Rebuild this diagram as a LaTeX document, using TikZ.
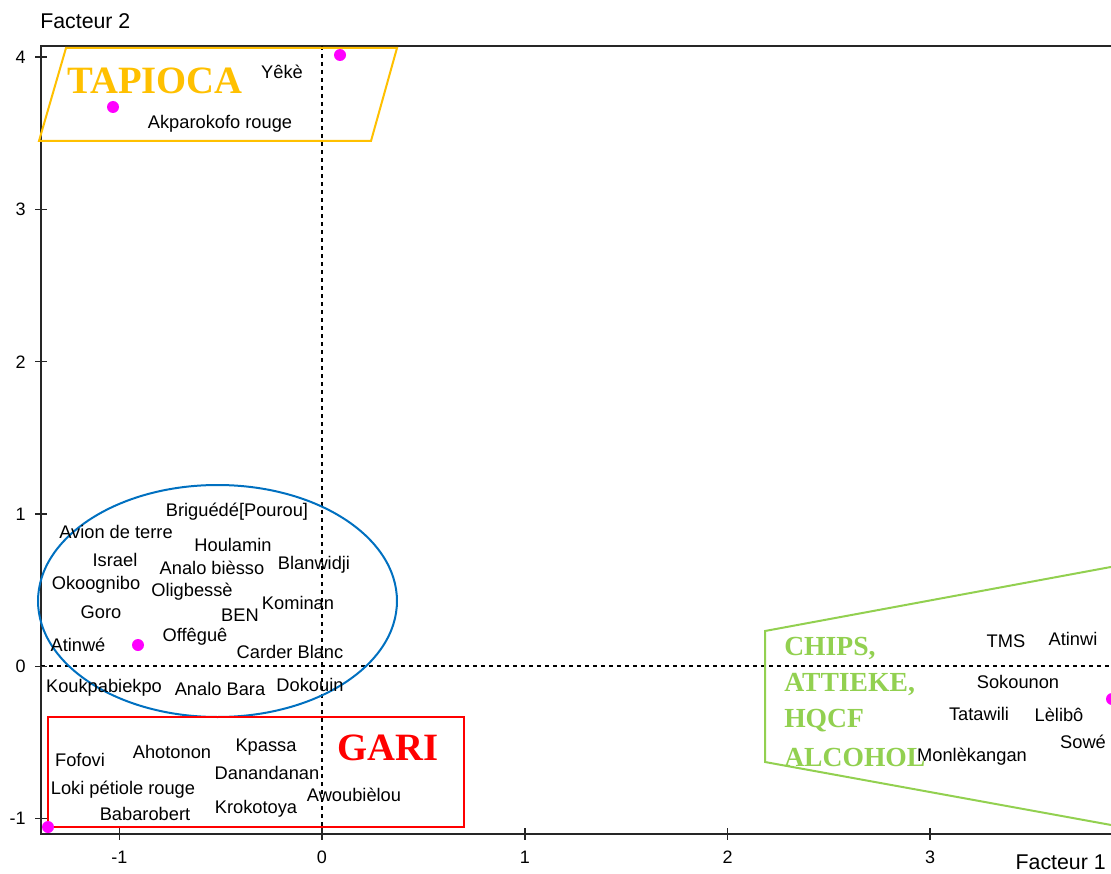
\documentclass[tikz,border=0pt]{standalone}
\usepackage{fontspec}
\setmainfont{Liberation Sans}
\newfontfamily\titleserif{Liberation Serif}
\definecolor{tapioca}{HTML}{FFC000}
\definecolor{garired}{HTML}{FF0000}
\definecolor{chipsgreen}{HTML}{92D050}
\definecolor{ellblue}{HTML}{0070C0}
\definecolor{ptmag}{HTML}{FF00FF}
\begin{document}
\begin{tikzpicture}[x=0.75pt,y=-0.75pt,
 lbl/.style={inner sep=0pt, font=\fontsize{13.7}{15}\selectfont},
 ticklbl/.style={inner sep=0pt, font=\fontsize{13.5}{15}\selectfont},
 axtitle/.style={inner sep=0pt, font=\fontsize{16}{18}\selectfont},
 bigtitle/.style={inner sep=0pt, font=\titleserif\bfseries\fontsize{29}{30}\selectfont},
 grouptitle/.style={inner sep=0pt, anchor=west, text=chipsgreen, font=\titleserif\bfseries\fontsize{20.7}{24}\selectfont},
 pnt/.style={circle, fill=ptmag, inner sep=0pt, minimum size=9pt},
 axisline/.style={line width=1.1pt, draw=black!85},
 tickline/.style={line width=0.8pt, draw=black!85},
 zeroline/.style={line width=0.8pt, dash pattern=on 3pt off 3pt},
 grp/.style={line width=1.5pt},
]
\useasboundingbox (0,0) rectangle (1111,874);
\clip (0,0) rectangle (1111,874);

% axes frame
\coordinate (tr) at (1111,46);
\coordinate (tl) at (41,46);
\coordinate (bl) at (41,834);
\coordinate (br) at (1111,834);
\draw[axisline] (tr) -- (tl) -- (bl) -- (br);

% zero lines
\coordinate (vtop) at (322,46);
\coordinate (vbot) at (322,834);
\coordinate (hleft) at (41,666);
\coordinate (hright) at (1111,666);
\draw[zeroline] (vtop) -- (vbot);
\draw[zeroline] (hleft) -- (hright);

% y ticks
\foreach \v/\yy in {4/57,3/209.5,2/361.75,1/514,0/666.25,-1/818.5}{
  \coordinate (yt\v a) at (35,\yy);
  \coordinate (yt\v b) at (47,\yy);
  \draw[tickline] (yt\v a) -- (yt\v b);
  \node[ticklbl, anchor=east] (ylab\v) at (26,\yy) {\v};
}
% x ticks
\foreach \v/\xx in {-1/119.5,0/322,1/525,2/727.5,3/930}{
  \coordinate (xt\v a) at (\xx,828);
  \coordinate (xt\v b) at (\xx,840);
  \draw[tickline] (xt\v a) -- (xt\v b);
  \node[ticklbl] (xlab\v) at (\xx,857) {\v};
}
\node[axtitle, anchor=west] (f2) at (40,21) {Facteur 2};
\node[axtitle, anchor=east] (f1) at (1106,862) {Facteur 1};

% groups
\draw[grp, tapioca] (66,48) -- (397,48) -- (371,141) -- (39,141) -- cycle;
\draw[grp, ellblue] (217.5,601) ellipse [x radius=134.6pt, y radius=87pt];
\draw[grp, garired] (48,717) rectangle (464,827);
\draw[grp, chipsgreen] (1120,565.3) -- (765,631) -- (765,762) -- (1120,826.6);

% points
\node[pnt] (p1) at (340,55) {};
\node[pnt] (p2) at (113,107) {};
\node[pnt] (p3) at (138,645) {};
\node[pnt] (p4) at (48,827) {};
\node[pnt] (p5) at (1112,699) {};

% group titles
\node[bigtitle, text=tapioca] (tapiocaT) at (155,81) {TAPIOCA};
\node[bigtitle, text=garired] (gariT) at (388,748) {GARI};
\node[grouptitle] (c1) at (784,648) {CHIPS,};
\node[grouptitle] (c2) at (784,685) {ATTIEKE,};
\node[grouptitle] (c3) at (784,721) {HQCF};
\node[grouptitle] (c4) at (784,757) {ALCOHOL};

% labels - tapioca
\node[lbl] (yeke) at (282,72) {Yêkè};
\node[lbl] (akpa) at (220,124) {Akparokofo rouge};
% labels - ellipse
\node[lbl] (brig) at (237,512) {Briguédé[Pourou]};
\node[lbl] (avion) at (116,532) {Avion de terre};
\node[lbl] (houl) at (233,545) {Houlamin};
\node[lbl] (isr) at (115,560) {Israel};
\node[lbl] (anbi) at (212,568) {Analo bièsso};
\node[lbl] (blan) at (314,565) {Blanwidji};
\node[lbl] (okoo) at (96,585) {Okoognibo};
\node[lbl] (olig) at (192,592) {Oligbessè};
\node[lbl] (komi) at (298,603) {Kominan};
\node[lbl] (goro) at (101,612) {Goro};
\node[lbl] (ben) at (240,615) {BEN};
\node[lbl] (atinwe) at (78,645) {Atinwé};
\node[lbl] (offe) at (195,637) {Offêguê};
\node[lbl] (card) at (290,652) {Carder Blanc};
\node[lbl] (kouk) at (104,688) {Koukpabiekpo};
\node[lbl] (anba) at (220,689) {Analo Bara};
\node[lbl] (doko) at (310,685) {Dokouin};
% labels - gari
\node[lbl] (fofo) at (80,760) {Fofovi};
\node[lbl] (ahot) at (172,752) {Ahotonon};
\node[lbl] (kpas) at (266,747) {Kpassa};
\node[lbl] (dana) at (267,773) {Danandanan};
\node[lbl] (loki) at (123,790) {Loki pétiole rouge};
\node[lbl] (awou) at (354,795) {Awoubièlou};
\node[lbl] (baba) at (145,814) {Babarobert};
\node[lbl] (krok) at (256,809) {Krokotoya};
% labels - chips
\node[lbl] (tms) at (1006,641) {TMS};
\node[lbl] (atinwi) at (1073,639) {Atinwi};
\node[lbl] (soko) at (1018,682) {Sokounon};
\node[lbl] (tata) at (979,714) {Tatawili};
\node[lbl] (leli) at (1059,715) {Lèlibô};
\node[lbl] (sowe) at (1083,742) {Sowé};
\node[lbl] (monl) at (972,757) {Monlèkangan};
\end{tikzpicture}
\end{document}
